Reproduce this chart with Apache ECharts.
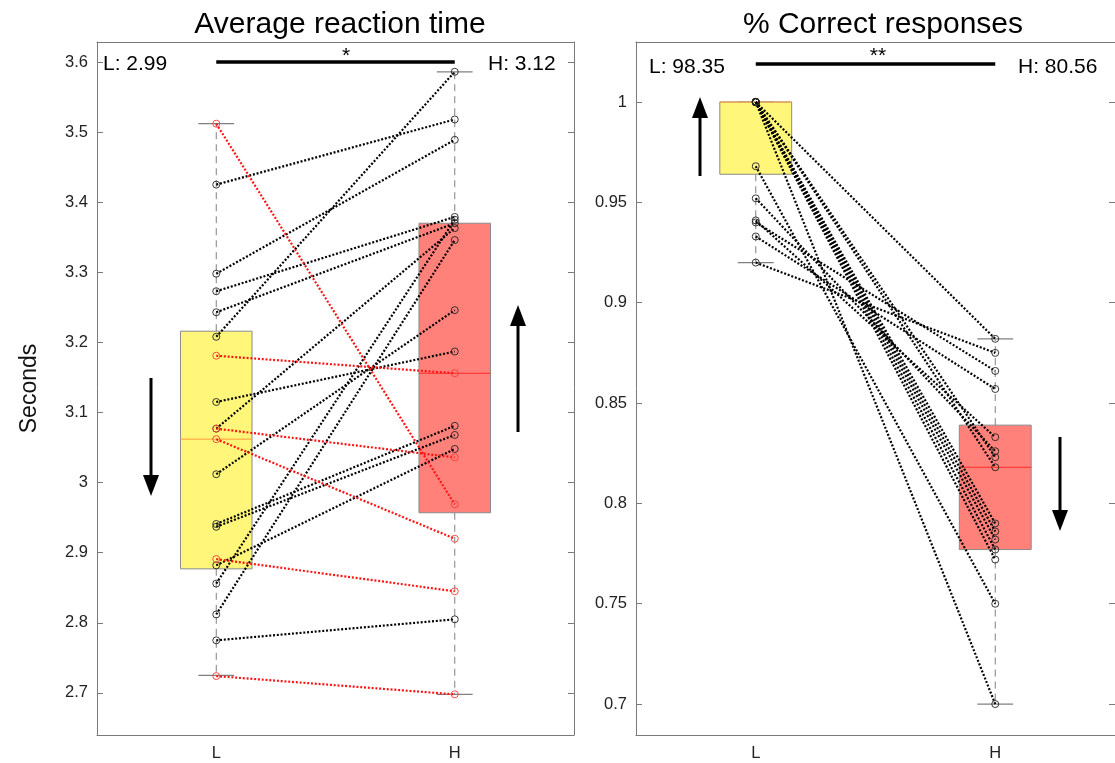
<!DOCTYPE html>
<html>
<head>
<meta charset="utf-8">
<script src="https://cdn.jsdelivr.net/npm/echarts@6/dist/echarts.min.js"></script>
<style>
  html, body { margin: 0; padding: 0; background: #fff; }
  #main { width: 1115px; height: 763px; }
</style>
</head>
<body>
<div id="main"></div>
<script>
const groups = ['L', 'H'];

// average reaction time (s), one L/H pair per subject
const rtLow  = [3.425, 3.298, 3.273, 3.243, 3.208, 3.115, 3.077, 3.012, 2.941, 2.937, 2.882, 2.856, 2.812, 2.775, 3.512, 3.181, 3.077, 3.062, 2.891, 2.724];
const rtHigh = [3.518, 3.489, 3.379, 3.370, 3.586, 3.187, 3.363, 3.246, 3.081, 3.068, 3.048, 3.375, 3.346, 2.805, 2.969, 3.156, 3.036, 2.920, 2.845, 2.698];
// subjects whose pair is drawn in red
const rtFlag = [0, 0, 0, 0, 0, 0, 0, 0, 0, 0, 0, 0, 0, 0, 1, 1, 1, 1, 1, 1];
// box stats: min, q1, median, q3, max
const rtBoxL = [2.725, 2.877, 3.062, 3.216, 3.512];
const rtBoxH = [2.698, 2.957, 3.156, 3.370, 3.586];
const rtTicks = [2.7, 2.8, 2.9, 3.0, 3.1, 3.2, 3.3, 3.4, 3.5, 3.6];

// proportion correct
const pcLow  = [1, 1, 1, 1, 1, 1, 1, 1, 1, 0.968, 0.952, 0.941, 0.940, 0.933, 0.920];
const pcHigh = [0.882, 0.823, 0.818, 0.790, 0.786, 0.782, 0.777, 0.772, 0.700, 0.750, 0.826, 0.833, 0.866, 0.857, 0.875];
const pcFlag = [0, 0, 0, 0, 0, 0, 0, 0, 0, 0, 0, 0, 0, 0, 0];
const pcBoxL = [0.920, 0.964, 1.0, 1.0, 1.0];
const pcBoxH = [0.700, 0.777, 0.818, 0.839, 0.882];
const pcTicks = [0.7, 0.75, 0.8, 0.85, 0.9, 0.95, 1];

const myChart = echarts.init(document.getElementById('main'));
const FONT = 'Liberation Sans, Arial, sans-serif';
const AX = '#7a7a7a';

const fmt = v => String(+(+v).toFixed(3));

// box drawn by hand so whiskers can be dashed
function renderBox(params, api) {
  const i = api.value(0);
  const at = k => api.coord([i, api.value(k)]);
  const lo = at(1), q1 = at(2), md = at(3), q3 = at(4), hi = at(5);
  const band = api.size([1, 0])[0];
  const bw = band * 0.3, cw = band * 0.15;
  const x = lo[0];
  const fill = i === 0 ? '#fff67a' : '#ff8179';
  const mcol = i === 0 ? '#ff9d3a' : '#ff2b2b';
  const dash = { stroke: '#808080', lineWidth: 1, lineDash: [7, 5] };
  const cap = { stroke: '#808080', lineWidth: 1.2 };
  return {
    type: 'group',
    children: [
      { type: 'line', shape: { x1: x, y1: q3[1], x2: x, y2: hi[1] }, style: dash },
      { type: 'line', shape: { x1: x, y1: q1[1], x2: x, y2: lo[1] }, style: dash },
      { type: 'line', shape: { x1: x - cw / 2, y1: hi[1], x2: x + cw / 2, y2: hi[1] }, style: cap },
      { type: 'line', shape: { x1: x - cw / 2, y1: lo[1], x2: x + cw / 2, y2: lo[1] }, style: cap },
      { type: 'rect', shape: { x: x - bw / 2, y: q3[1], width: bw, height: q1[1] - q3[1] },
        style: { fill: fill, stroke: '#8a8a8a', lineWidth: 1 } },
      { type: 'line', shape: { x1: x - bw / 2, y1: md[1], x2: x + bw / 2, y2: md[1] },
        style: { stroke: mcol, lineWidth: 1 } }
    ]
  };
}

function boxSeries(boxL, boxH, idx) {
  return {
    type: 'custom', xAxisIndex: idx * 2, yAxisIndex: idx * 2,
    renderItem: renderBox,
    data: [[0].concat(boxL), [1].concat(boxH)],
    encode: { x: 0, y: [1, 2, 3, 4, 5] },
    z: 1, silent: true
  };
}

function pairSeries(low, high, flags, idx) {
  return low.map((v, k) => ({
    type: 'line', xAxisIndex: idx * 2, yAxisIndex: idx * 2,
    data: [v, high[k]],
    symbol: 'circle', symbolSize: 7,
    lineStyle: { color: flags[k] ? '#ff1414' : '#000', width: 2.2, type: [2, 1.8] },
    itemStyle: { color: 'rgba(0,0,0,0)', borderColor: flags[k] ? '#ff3b3b' : '#222', borderWidth: 0.9 },
    z: 3, silent: true
  }));
}

function sigBar(y, idx) {
  return {
    type: 'line', xAxisIndex: idx * 2, yAxisIndex: idx * 2, data: [],
    markLine: {
      silent: true, symbol: 'none', label: { show: false },
      lineStyle: { color: '#000', width: 3.5, type: 'solid' },
      data: [[{ coord: [0, y] }, { coord: [1, y] }]]
    }
  };
}

function xAxes(grid) {
  const base = {
    gridIndex: grid, type: 'category', data: groups, boundaryGap: true,
    axisLine: { lineStyle: { color: AX, width: 1 } },
    axisTick: { inside: true, alignWithLabel: true, length: 5, lineStyle: { color: AX } },
    splitLine: { show: false }
  };
  return [
    Object.assign({}, base, { position: 'bottom',
      axisLabel: { fontSize: 16.5, color: '#222', margin: 10, fontFamily: FONT } }),
    Object.assign({}, base, { position: 'top', axisLabel: { show: false } })
  ];
}

function yAxes(grid, min, max, ticks, name) {
  const base = {
    gridIndex: grid, type: 'value', min: min, max: max,
    axisLine: { show: true, lineStyle: { color: AX, width: 1 } },
    axisTick: { show: true, inside: true, length: 6, customValues: ticks, lineStyle: { color: AX } },
    splitLine: { show: false }
  };
  return [
    Object.assign({}, base, { position: 'left',
      name: name, nameLocation: 'middle', nameGap: 56, nameRotate: 90,
      nameTextStyle: { fontSize: 23, color: '#111', fontFamily: FONT },
      axisLabel: { customValues: ticks, formatter: fmt, fontSize: 16.5, color: '#222', margin: 9, fontFamily: FONT } }),
    Object.assign({}, base, { position: 'right', axisLabel: { show: false } })
  ];
}

function arrow(x, yFrom, yTo) {
  const dir = yTo > yFrom ? 1 : -1;
  const head = 21, hw = 8;
  return {
    type: 'group', silent: true,
    children: [
      { type: 'line', shape: { x1: x, y1: yFrom, x2: x, y2: yTo - dir * head },
        style: { stroke: '#000', lineWidth: 3 } },
      { type: 'polygon', shape: { points: [[x - hw, yTo - dir * head], [x + hw, yTo - dir * head], [x, yTo]] },
        style: { fill: '#000' } }
    ]
  };
}

function label(text, x, y, size, align) {
  return { type: 'text', silent: true, x: x, y: y,
    style: { text: text, fontSize: size, fontFamily: FONT, fill: '#000',
      align: align || 'left', verticalAlign: 'middle' } };
}

const option = {
  animation: false,
  backgroundColor: '#fff',
  title: [
    { text: 'Average reaction time', left: 335, top: 5, textAlign: 'center',
      textStyle: { fontSize: 30, fontWeight: 'normal', color: '#000', fontFamily: FONT } },
    { text: '% Correct responses', left: 878, top: 5, textAlign: 'center',
      textStyle: { fontSize: 30, fontWeight: 'normal', color: '#000', fontFamily: FONT } }
  ],
  grid: [
    { left: 97, top: 42, width: 477, bottom: 28 },
    { left: 636, top: 42, width: 484, bottom: 28 }
  ],
  xAxis: xAxes(0).concat(xAxes(1)),
  yAxis: yAxes(0, 2.64, 3.6285, rtTicks, 'Seconds').concat(yAxes(1, 0.6846, 1.0299, pcTicks, '')),
  series: [
    boxSeries(rtBoxL, rtBoxH, 0),
    boxSeries(pcBoxL, pcBoxH, 1),
    sigBar(3.6, 0),
    sigBar(1.019, 1)
  ].concat(pairSeries(rtLow, rtHigh, rtFlag, 0), pairSeries(pcLow, pcHigh, pcFlag, 1)),
  graphic: [
    label('L: 2.99', 103, 64, 21),
    label('H: 3.12', 488, 64, 21),
    label('*', 346, 56, 21, 'center'),
    label('L: 98.35', 649, 67, 21),
    label('H: 80.56', 1018, 67, 21),
    label('**', 878, 56, 21, 'center'),
    arrow(151, 378, 496),
    arrow(518, 432, 305),
    arrow(700, 176, 97),
    arrow(1060, 437, 531)
  ]
};

myChart.setOption(option);
</script>
</body>
</html>
